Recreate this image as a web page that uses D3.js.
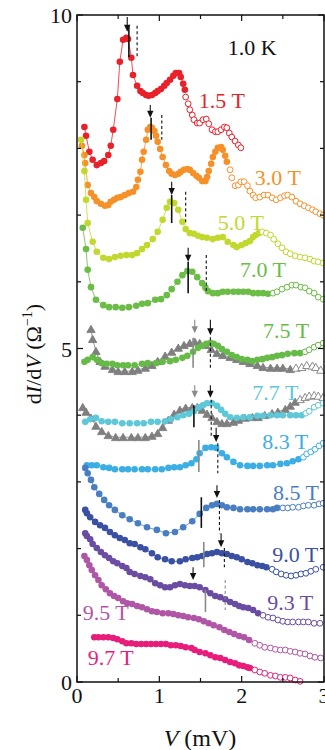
<!DOCTYPE html>
<html>
<head>
<meta charset="utf-8">
<script src="https://cdn.jsdelivr.net/npm/d3@7"></script>
<style>
  body { margin: 0; background: #fff; }
  svg { display: block; }
  text { font-family: "Liberation Serif", "Times New Roman", serif; }
</style>
</head>
<body>
<div id="chart"></div>
<script>
// ---- data: [V (mV), dI/dV (1/Ohm)] ----
const b15 = [[0.09,8.32],[0.11,8.19],[0.15,7.95],[0.19,7.83],[0.24,7.75],[0.29,7.78],[0.33,7.81],[0.38,7.90],[0.41,8.04],[0.44,8.28],[0.49,8.74],[0.52,9.30],[0.56,9.63],[0.60,9.66],[0.62,9.64],[0.66,9.36],[0.68,9.10],[0.73,8.94],[0.77,8.86],[0.80,8.83],[0.84,8.80],[0.87,8.79],[0.91,8.80],[0.95,8.83],[0.98,8.86],[1.02,8.89],[1.06,8.94],[1.09,8.98],[1.13,9.03],[1.17,9.09],[1.20,9.13],[1.24,9.13],[1.26,9.07],[1.29,8.97],[1.31,8.88],
  [1.32,8.77],[1.35,8.67],[1.37,8.58],[1.40,8.50],[1.42,8.43],[1.46,8.38],[1.49,8.38],[1.53,8.43],[1.57,8.44],[1.60,8.37],[1.64,8.28],[1.68,8.25],[1.71,8.25],[1.75,8.28],[1.79,8.32],[1.82,8.31],[1.85,8.23],[1.88,8.17],[1.92,8.11],[1.96,8.05],[1.99,8.01]];
const b30 = [[0.06,8.04],[0.09,7.90],[0.10,7.78],[0.13,7.45],[0.17,7.33],[0.21,7.27],[0.24,7.21],[0.29,7.17],[0.34,7.14],[0.38,7.15],[0.41,7.20],[0.45,7.23],[0.49,7.26],[0.53,7.27],[0.58,7.30],[0.63,7.33],[0.68,7.35],[0.72,7.42],[0.74,7.53],[0.77,7.65],[0.79,7.83],[0.81,7.95],[0.84,8.13],[0.86,8.28],[0.89,8.32],[0.91,8.31],[0.94,8.26],[0.96,8.19],[0.98,8.10],[1.01,7.99],[1.04,7.87],[1.08,7.75],[1.12,7.66],[1.15,7.62],[1.19,7.60],[1.23,7.62],[1.26,7.65],[1.30,7.68],[1.34,7.69],[1.37,7.68],[1.41,7.63],[1.45,7.59],[1.48,7.56],[1.52,7.51],[1.56,7.51],[1.58,7.57],[1.60,7.66],[1.63,7.77],[1.65,7.87],[1.68,7.95],[1.71,8.01],[1.75,8.02],[1.77,7.98],[1.80,7.89],[1.82,7.80],
  [1.86,7.68],[1.88,7.56],[1.92,7.44],[1.96,7.45],[1.99,7.50],[2.03,7.50],[2.07,7.44],[2.10,7.36],[2.14,7.30],[2.17,7.26],[2.22,7.27],[2.27,7.30],[2.32,7.30],[2.37,7.26],[2.42,7.23],[2.47,7.26],[2.52,7.29],[2.56,7.30],[2.61,7.27],[2.66,7.21],[2.71,7.17],[2.76,7.14],[2.81,7.11],[2.86,7.08],[2.90,7.05],[2.95,7.02],[2.99,7.00]];
const b50 = [[0.05,8.13],[0.09,7.66],[0.11,7.23],[0.13,6.88],[0.19,6.60],[0.24,6.45],[0.32,6.36],[0.39,6.34],[0.46,6.37],[0.53,6.39],[0.60,6.40],[0.67,6.40],[0.73,6.43],[0.79,6.49],[0.85,6.55],[0.92,6.64],[0.98,6.75],[1.04,6.93],[1.09,7.11],[1.13,7.20],[1.18,7.18],[1.23,7.08],[1.28,6.90],[1.32,6.79],[1.37,6.73],[1.42,6.72],[1.47,6.69],[1.52,6.67],[1.58,6.66],[1.65,6.64],[1.71,6.66],[1.77,6.67],[1.83,6.60],[1.90,6.55],[1.94,6.52],[2.00,6.55],[2.05,6.58],[2.10,6.61],[2.14,6.67],[2.17,6.70],[2.21,6.73],
  [2.25,6.75],[2.30,6.73],[2.35,6.70],[2.39,6.64],[2.44,6.57],[2.49,6.51],[2.54,6.45],[2.59,6.42],[2.65,6.39],[2.71,6.37],[2.77,6.36],[2.83,6.34],[2.88,6.31],[2.93,6.30],[2.99,6.28]];
const b70 = [[0.07,6.81],[0.11,6.49],[0.13,6.18],[0.17,5.92],[0.23,5.73],[0.32,5.65],[0.39,5.62],[0.47,5.62],[0.55,5.61],[0.63,5.62],[0.72,5.64],[0.79,5.67],[0.86,5.68],[0.95,5.73],[1.02,5.74],[1.09,5.80],[1.15,5.89],[1.22,6.00],[1.28,6.10],[1.34,6.16],[1.40,6.15],[1.46,6.07],[1.52,5.98],[1.56,5.91],[1.59,5.86],[1.65,5.83],[1.71,5.83],[1.77,5.85],[1.83,5.85],[1.90,5.85],[1.96,5.85],[2.02,5.85],[2.08,5.85],[2.14,5.83],[2.20,5.83],[2.26,5.83],[2.32,5.82],
  [2.38,5.83],[2.43,5.85],[2.49,5.89],[2.55,5.92],[2.61,5.95],[2.66,5.95],[2.72,5.92],[2.77,5.91],[2.82,5.86],[2.88,5.83],[2.93,5.77],[2.99,5.74]];
const b75 = [[0.09,4.80],[0.13,4.83],[0.19,4.87],[0.24,4.83],[0.30,4.78],[0.36,4.77],[0.43,4.77],[0.49,4.75],[0.56,4.75],[0.62,4.75],[0.70,4.75],[0.79,4.77],[0.86,4.78],[0.96,4.78],[1.04,4.80],[1.13,4.81],[1.20,4.83],[1.28,4.86],[1.34,4.89],[1.41,4.95],[1.47,5.01],[1.52,5.04],[1.57,5.07],[1.62,5.08],[1.66,5.07],[1.71,5.04],[1.76,4.99],[1.82,4.95],[1.88,4.90],[1.94,4.87],[2.00,4.84],[2.07,4.83],[2.13,4.81],[2.19,4.83],[2.25,4.84],[2.31,4.86],[2.37,4.87],[2.43,4.89],[2.49,4.90],[2.56,4.92],[2.64,4.93],[2.71,4.93],
  [2.77,4.95],[2.82,4.98],[2.88,5.02],[2.93,5.05],[2.99,5.08]];
const b77 = [[0.10,3.90],[0.16,3.94],[0.23,3.96],[0.30,3.91],[0.38,3.90],[0.46,3.90],[0.55,3.88],[0.64,3.88],[0.73,3.88],[0.81,3.88],[0.90,3.90],[0.98,3.90],[1.07,3.91],[1.14,3.94],[1.22,3.97],[1.29,4.00],[1.36,4.02],[1.42,4.06],[1.48,4.12],[1.53,4.15],[1.58,4.18],[1.64,4.18],[1.70,4.14],[1.75,4.08],[1.80,4.02],[1.86,3.97],[1.94,3.96],[2.02,3.97],[2.10,3.97],[2.19,3.99],[2.26,3.99],[2.35,4.00],[2.43,4.00],[2.50,4.00],[2.59,4.00],[2.66,4.00],[2.73,4.00],
  [2.78,4.03],[2.82,4.06],[2.88,4.12],[2.93,4.15],[2.99,4.18]];
const b83 = [[0.12,3.25],[0.18,3.25],[0.24,3.25],[0.32,3.22],[0.39,3.21],[0.46,3.19],[0.55,3.19],[0.62,3.19],[0.70,3.19],[0.79,3.19],[0.86,3.19],[0.95,3.19],[1.03,3.19],[1.11,3.21],[1.18,3.22],[1.25,3.22],[1.32,3.25],[1.39,3.28],[1.45,3.34],[1.49,3.43],[1.56,3.51],[1.63,3.52],[1.69,3.51],[1.76,3.43],[1.82,3.37],[1.90,3.30],[1.98,3.25],[2.07,3.24],[2.14,3.24],[2.22,3.24],[2.31,3.25],[2.38,3.25],[2.47,3.27],[2.55,3.28],[2.62,3.31],[2.69,3.34],
  [2.75,3.37],[2.79,3.42],[2.84,3.45],[2.89,3.49],[2.94,3.54],[2.99,3.58]];
const b85 = [[0.10,3.21],[0.13,3.13],[0.17,3.03],[0.21,2.92],[0.27,2.82],[0.33,2.73],[0.39,2.65],[0.46,2.58],[0.55,2.50],[0.64,2.44],[0.74,2.38],[0.85,2.32],[0.97,2.28],[1.08,2.23],[1.19,2.25],[1.29,2.32],[1.40,2.41],[1.49,2.52],[1.57,2.61],[1.64,2.65],[1.70,2.67],[1.76,2.65],[1.82,2.62],[1.90,2.61],[1.98,2.59],[2.07,2.59],[2.14,2.59],[2.22,2.59],[2.31,2.59],[2.38,2.59],[2.43,2.61],
  [2.50,2.61],[2.56,2.61],[2.62,2.62],[2.69,2.62],[2.75,2.64],[2.81,2.65],[2.88,2.65],[2.94,2.67],[2.99,2.68]];
const b90 = [[0.10,2.58],[0.12,2.53],[0.16,2.47],[0.22,2.40],[0.28,2.35],[0.34,2.31],[0.40,2.25],[0.46,2.20],[0.52,2.16],[0.58,2.13],[0.64,2.08],[0.70,2.07],[0.77,2.02],[0.83,1.99],[0.91,1.93],[0.98,1.87],[1.07,1.84],[1.15,1.81],[1.25,1.81],[1.32,1.84],[1.40,1.86],[1.46,1.87],[1.52,1.89],[1.58,1.92],[1.64,1.93],[1.70,1.95],[1.76,1.93],[1.82,1.92],[1.88,1.89],[1.94,1.87],[2.00,1.84],[2.07,1.80],[2.13,1.78],[2.19,1.75],[2.25,1.74],[2.30,1.72],
  [2.37,1.69],[2.42,1.65],[2.48,1.62],[2.54,1.60],[2.60,1.59],[2.66,1.60],[2.72,1.62],[2.78,1.63],[2.84,1.66],[2.90,1.69],[2.99,1.72]];
const b93 = [[0.10,2.23],[0.12,2.19],[0.16,2.14],[0.19,2.07],[0.24,2.01],[0.29,1.95],[0.34,1.90],[0.39,1.86],[0.44,1.81],[0.49,1.78],[0.55,1.74],[0.60,1.71],[0.64,1.65],[0.70,1.62],[0.77,1.59],[0.83,1.57],[0.89,1.54],[0.95,1.48],[1.01,1.45],[1.07,1.42],[1.13,1.42],[1.19,1.45],[1.25,1.47],[1.31,1.45],[1.37,1.44],[1.43,1.44],[1.49,1.42],[1.56,1.38],[1.62,1.33],[1.68,1.29],[1.74,1.27],[1.80,1.24],[1.86,1.20],[1.92,1.17],[1.97,1.14],[2.02,1.12],[2.08,1.11],[2.14,1.08],[2.20,1.03],
  [2.26,1.00],[2.32,0.97],[2.38,0.96],[2.44,0.93],[2.50,0.91],[2.56,0.90],[2.62,0.90],[2.69,0.90],[2.75,0.90],[2.81,0.90],[2.88,0.88],[2.95,0.88]];
const b95 = [[0.09,1.89],[0.12,1.83],[0.15,1.75],[0.18,1.68],[0.22,1.60],[0.26,1.53],[0.30,1.45],[0.35,1.39],[0.40,1.33],[0.45,1.29],[0.50,1.26],[0.56,1.21],[0.61,1.18],[0.67,1.17],[0.73,1.14],[0.79,1.12],[0.85,1.09],[0.91,1.06],[0.97,1.05],[1.04,1.03],[1.11,1.03],[1.17,1.02],[1.23,1.00],[1.29,0.99],[1.35,0.97],[1.42,0.96],[1.48,0.94],[1.54,0.91],[1.60,0.88],[1.66,0.85],[1.73,0.82],[1.79,0.78],[1.85,0.75],[1.91,0.72],[1.97,0.69],[2.03,0.67],[2.09,0.63],
  [2.16,0.58],[2.22,0.55],[2.28,0.52],[2.35,0.51],[2.41,0.49],[2.47,0.48],[2.53,0.48],[2.59,0.46],[2.65,0.45],[2.71,0.43],[2.77,0.42],[2.83,0.39],[2.89,0.37],[2.96,0.36]];
const b97 = [[0.21,0.67],[0.26,0.67],[0.32,0.67],[0.38,0.67],[0.44,0.66],[0.49,0.64],[0.55,0.61],[0.60,0.58],[0.66,0.58],[0.72,0.57],[0.78,0.57],[0.84,0.57],[0.90,0.57],[0.96,0.57],[1.02,0.57],[1.08,0.57],[1.14,0.55],[1.20,0.55],[1.26,0.54],[1.32,0.52],[1.39,0.51],[1.43,0.48],[1.49,0.45],[1.56,0.43],[1.62,0.40],[1.68,0.37],[1.74,0.36],[1.80,0.33],[1.86,0.30],[1.92,0.28],[1.97,0.25],[2.02,0.24],[2.07,0.22],[2.10,0.21],
  [2.16,0.18],[2.22,0.15],[2.28,0.13],[2.35,0.10],[2.41,0.09],[2.47,0.07],[2.53,0.07],[2.59,0.06],[2.65,0.03],[2.71,0.01]];
// gray triangle traces shown with 7.5 T and 7.7 T
const t75 = [[0.17,5.29],[0.19,5.14],[0.23,4.96],[0.28,4.81],[0.34,4.74],[0.43,4.69],[0.50,4.66],[0.58,4.66],[0.67,4.66],[0.74,4.68],[0.83,4.71],[0.91,4.75],[0.98,4.81],[1.07,4.89],[1.15,4.95],[1.23,5.01],[1.30,5.05],[1.37,5.08],[1.43,5.10],[1.49,5.08],[1.56,5.05],[1.63,4.99],[1.70,4.93],[1.77,4.90],[1.86,4.87],[1.94,4.84],[2.02,4.81],[2.10,4.78],[2.19,4.75],[2.26,4.72],[2.35,4.71],[2.43,4.71],[2.50,4.71],[2.59,4.69],
  [2.66,4.71],[2.73,4.72],[2.79,4.75],[2.86,4.74],[2.90,4.72],[2.96,4.68]];
const t77 = [[0.07,4.12],[0.11,4.05],[0.17,3.96],[0.23,3.84],[0.30,3.76],[0.38,3.70],[0.47,3.67],[0.56,3.67],[0.66,3.67],[0.74,3.67],[0.83,3.67],[0.91,3.69],[0.98,3.73],[1.04,3.82],[1.11,3.93],[1.18,4.02],[1.25,4.08],[1.32,4.11],[1.40,4.12],[1.46,4.12],[1.52,4.08],[1.58,4.02],[1.64,3.97],[1.70,3.91],[1.76,3.88],[1.82,3.88],[1.90,3.90],[1.96,3.93],[2.04,3.96],[2.13,3.97],[2.20,3.97],[2.28,4.00],[2.37,4.03],[2.44,4.05],[2.53,4.09],[2.59,4.14],[2.65,4.20],
  [2.71,4.24],[2.77,4.27],[2.82,4.29],[2.88,4.30],[2.93,4.29],[2.99,4.27]];

const fields = ['1.5 T','3.0 T','5.0 T','7.0 T','7.5 T','7.7 T','8.3 T','8.5 T','9.0 T','9.3 T','9.5 T','9.7 T'];
const curves = [b15, b30, b50, b70, b75, b77, b83, b85, b90, b93, b95, b97];
// V above which points are drawn as open circles
const openFrom = [1.315, 1.84, 2.23, 2.35, 2.74, 2.755, 2.72, 2.46, 2.33, 2.23, 2.12, 2.13];
const triCurves = [t75, t77];
const triOpenFrom = [2.62, 2.68];
// field label anchor [V, dI/dV]
const labelAt = [[1.48,8.61],[2.16,7.45],[1.71,6.78],[1.98,6.07],[2.26,5.16],[2.13,4.23],[2.25,3.49],[2.38,2.73],[2.37,1.80],[2.31,1.08],[0.07,0.93],[0.13,0.25]];
// peak markers: [kind, V, yTop, yBottom]
const markers = [
  ['arrow',0.61,9.97,9.75],['solid',0.63,9.85,9.37],['dash',0.73,9.84,9.37],
  ['arrow',0.89,8.65,8.46],['solid',0.90,8.46,8.13],['dash',1.03,8.50,8.13],
  ['arrow',1.15,7.50,7.30],['solid',1.15,7.30,6.88],['dash',1.32,7.35,6.85],
  ['arrow',1.35,6.51,6.30],['solid',1.35,6.30,5.83],['dash',1.57,6.40,5.83],
  ['arrowGray',1.43,5.43,5.23],['solidGray',1.41,5.16,4.71],['arrow',1.62,5.43,5.20],['dash',1.62,5.17,4.68],
  ['arrowGray',1.43,4.45,4.26],['solid',1.42,4.15,3.82],['arrow',1.62,4.45,4.26],['dash',1.63,4.23,3.67],
  ['arrow',1.69,3.81,3.60],['dash',1.71,3.58,3.13],['solidGray',1.48,3.63,3.15],
  ['arrow',1.70,2.95,2.76],['dash',1.73,2.73,2.23],['solid',1.51,2.77,2.31],
  ['arrow',1.75,2.23,2.02],['dash',1.79,2.01,1.72],['solidGray',1.54,2.10,1.72],
  ['arrow',1.41,1.72,1.53],['solidGray',1.56,1.38,1.05],['dashGray',1.80,1.53,1.08]
];
const xTicks = [0, 1, 2, 3];
const xMinor = [0.5, 1.5, 2.5];
const yTicks = [0, 5, 10];
const yMinor = [1, 2, 3, 4, 6, 7, 8, 9];

const colors = ['#e8212a','#f6912a','#c2d82e','#6bbd45','#66bb48','#5ec7d8','#3caee6','#4a7ec2','#3a50a2','#6a4ca2','#b056a6','#e81d7b'];
const gray = '#7f7f7f';

const width = 325, height = 750;
const margin = { top: 15, right: 1, bottom: 68, left: 77 };

const svg = d3.select('#chart').append('svg')
  .attr('width', width).attr('height', height);

const x = d3.scaleLinear().domain([0, 3]).range([margin.left, width - margin.right]);
const y = d3.scaleLinear().domain([0, 10]).range([height - margin.bottom, margin.top]);

const plot = svg.append('g');
const line = d3.line().x(d => x(d[0])).y(d => y(d[1]));

// gray triangles first so the coloured circles sit on top
triCurves.forEach((pts, k) => {
  plot.append('path')
    .attr('d', line(pts.filter(d => d[0] < triOpenFrom[k])))
    .attr('fill', 'none').attr('stroke', gray).attr('stroke-width', 0.8);
  plot.selectAll(null).data(pts).enter().append('path')
    .attr('transform', d => `translate(${x(d[0])},${y(d[1]) + 1})`)
    .attr('d', d3.symbol(d3.symbolTriangle, 30))
    .attr('fill', d => d[0] < triOpenFrom[k] ? gray : '#fff')
    .attr('stroke', gray).attr('stroke-width', 0.9);
});

curves.forEach((pts, k) => {
  const c = colors[k];
  plot.append('path')
    .attr('d', line(pts.filter(d => d[0] < openFrom[k])))
    .attr('fill', 'none').attr('stroke', c).attr('stroke-width', 0.8);
  plot.selectAll(null).data(pts).enter().append('circle')
    .attr('cx', d => x(d[0])).attr('cy', d => y(d[1]))
    .attr('r', d => d[0] < openFrom[k] ? 3.3 : 2.9)
    .attr('fill', d => d[0] < openFrom[k] ? c : '#fff')
    .attr('stroke', c).attr('stroke-width', d => d[0] < openFrom[k] ? 0 : 1);
});

// peak markers
markers.forEach(([kind, v, y1, y2]) => {
  const col = kind.endsWith('Gray') ? '#8a8a8a' : '#111';
  const px = x(v);
  if (kind.startsWith('arrow')) {
    const tip = y(y2);
    plot.append('line').attr('x1', px).attr('x2', px).attr('y1', y(y1)).attr('y2', tip - 4)
      .attr('stroke', col).attr('stroke-width', 1.1);
    plot.append('path')
      .attr('d', `M${px - 3.2},${tip - 7}L${px + 3.2},${tip - 7}L${px},${tip}Z`)
      .attr('fill', col);
  } else {
    plot.append('line').attr('x1', px).attr('x2', px).attr('y1', y(y1)).attr('y2', y(y2))
      .attr('stroke', col)
      .attr('stroke-width', kind.startsWith('solid') ? 1.6 : 1.1)
      .attr('stroke-dasharray', kind.startsWith('dash') ? '3,2.5' : null);
  }
});

// field labels
fields.forEach((f, k) => {
  svg.append('text')
    .attr('x', x(labelAt[k][0])).attr('y', y(labelAt[k][1]))
    .attr('fill', colors[k]).attr('font-size', 22)
    .text(f);
});
svg.append('text').attr('x', x(1.83)).attr('y', y(9.40))
  .attr('font-size', 22).attr('fill', '#111').text('1.0 K');

// frame and ticks (inward on all sides)
const x0 = x(0), x1 = x(3), yb = y(0), yt = y(10);
svg.append('rect').attr('x', x0).attr('y', yt).attr('width', x1 - x0).attr('height', yb - yt)
  .attr('fill', 'none').attr('stroke', '#111').attr('stroke-width', 1.5);

const tickG = svg.append('g').attr('stroke', '#111').attr('stroke-width', 1.2);
xTicks.concat(xMinor).forEach(t => {
  const len = xTicks.includes(t) ? 6 : 4;
  tickG.append('line').attr('x1', x(t)).attr('x2', x(t)).attr('y1', yb).attr('y2', yb - len);
  tickG.append('line').attr('x1', x(t)).attr('x2', x(t)).attr('y1', yt).attr('y2', yt + len);
});
yTicks.concat(yMinor).forEach(t => {
  const len = yTicks.includes(t) ? 6 : 4;
  tickG.append('line').attr('x1', x0).attr('x2', x0 + len).attr('y1', y(t)).attr('y2', y(t));
  tickG.append('line').attr('x1', x1).attr('x2', x1 - len).attr('y1', y(t)).attr('y2', y(t));
});

svg.selectAll('.xl').data(xTicks).enter().append('text')
  .attr('x', d => x(d)).attr('y', yb + 21)
  .attr('text-anchor', 'middle').attr('font-size', 22).attr('fill', '#111')
  .text(d => d);
svg.selectAll('.yl').data(yTicks).enter().append('text')
  .attr('x', x0 - 5).attr('y', d => y(d) + 8)
  .attr('text-anchor', 'end').attr('font-size', 22).attr('fill', '#111')
  .text(d => d);

// axis titles
const xt = svg.append('text').attr('x', 200).attr('y', 746)
  .attr('text-anchor', 'middle').attr('font-size', 24).attr('fill', '#111');
xt.append('tspan').attr('font-style', 'italic').text('V');
xt.append('tspan').text(' (mV)');

const yt2 = svg.append('text').attr('transform', 'translate(41,354) rotate(-90)')
  .attr('text-anchor', 'middle').attr('font-size', 22).attr('fill', '#111');
yt2.append('tspan').text('d');
yt2.append('tspan').attr('font-style', 'italic').text('I');
yt2.append('tspan').text('/d');
yt2.append('tspan').attr('font-style', 'italic').text('V');
yt2.append('tspan').text(' (Ω');
yt2.append('tspan').attr('font-size', 14).attr('dy', -9).text('−1');
yt2.append('tspan').attr('dy', 9).text(')');
</script>
</body>
</html>
